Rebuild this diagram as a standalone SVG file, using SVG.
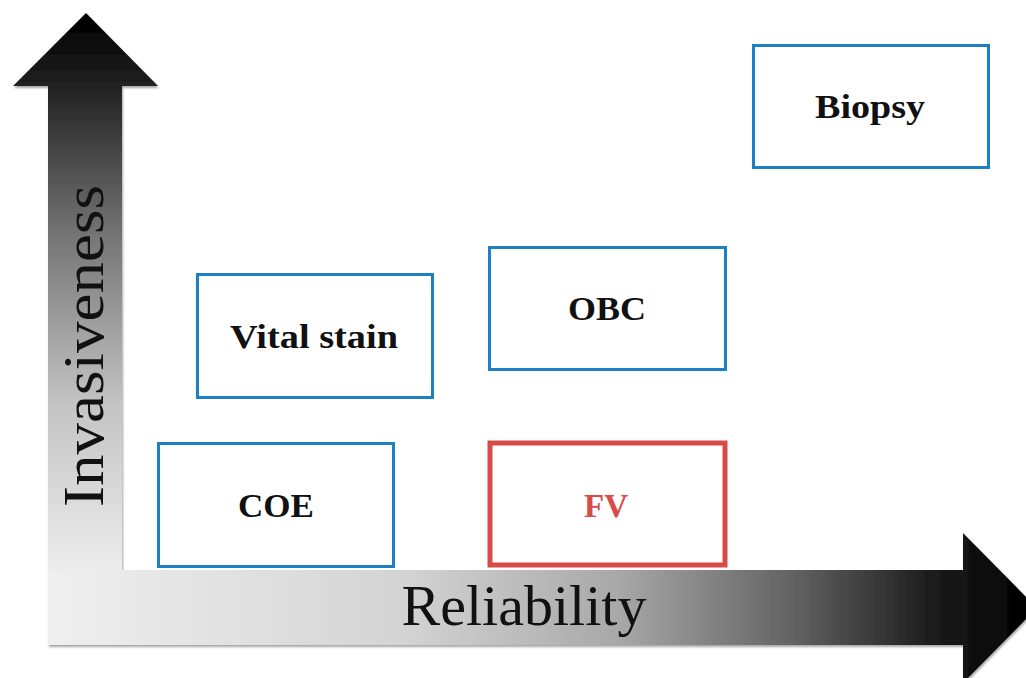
<svg xmlns="http://www.w3.org/2000/svg" width="1026" height="678" viewBox="0 0 1026 678">
<defs>
<linearGradient id="gv" gradientUnits="userSpaceOnUse" x1="0" y1="570" x2="0" y2="20">
<stop offset="0" stop-color="#ececec"/>
<stop offset="0.3" stop-color="#c4c4c4"/>
<stop offset="0.6" stop-color="#777"/>
<stop offset="0.85" stop-color="#2a2a2a"/>
<stop offset="1" stop-color="#000"/>
</linearGradient>
<linearGradient id="gh" gradientUnits="userSpaceOnUse" x1="48" y1="0" x2="1030" y2="0">
<stop offset="0" stop-color="#efefef"/>
<stop offset="0.36" stop-color="#d4d4d4"/>
<stop offset="0.58" stop-color="#a8a8a8"/>
<stop offset="0.76" stop-color="#626262"/>
<stop offset="0.9" stop-color="#1c1c1c"/>
<stop offset="1" stop-color="#000"/>
</linearGradient>
<filter id="sh" x="-5%" y="-5%" width="110%" height="110%">
<feDropShadow dx="1" dy="2" stdDeviation="1.2" flood-color="#000" flood-opacity="0.35"/>
</filter>
</defs>
<style>
.box{fill:#fff;stroke:#1b80c4;stroke-width:3}
.fv{fill:#fff;stroke:#d94a4a;stroke-width:5}
.lbl{font-family:"Liberation Serif","Times New Roman",serif;font-weight:bold;font-size:34px;text-anchor:middle;fill:#111}
.axis{font-family:"Liberation Serif","Times New Roman",serif;font-size:56px;text-anchor:middle;fill:#111}
</style>
<g id="axis-invasiveness">
<polygon points="48,570 48,86 13,86 86,13 158,86 122,86 122,570" fill="url(#gv)" filter="url(#sh)"/>
<text class="axis" transform="translate(103,346) rotate(-90)" x="0" y="0" textLength="322" lengthAdjust="spacingAndGlyphs" font-size="54">Invasiveness</text>
</g>
<g id="axis-reliability">
<polygon points="48,570 963,570 963,533 1037,608 963,683 963,645 48,645" fill="url(#gh)" filter="url(#sh)"/>
<text class="axis" x="524" y="625" textLength="245" lengthAdjust="spacingAndGlyphs">Reliability</text>
</g>
<g id="node-biopsy">
<rect class="box" x="753.5" y="45.5" width="235" height="122"/>
<text class="lbl" x="870" y="118" textLength="110" lengthAdjust="spacingAndGlyphs">Biopsy</text>
</g>
<g id="node-vital-stain">
<rect class="box" x="197.5" y="274.5" width="235" height="123"/>
<text class="lbl" x="314" y="348" textLength="168" lengthAdjust="spacingAndGlyphs">Vital stain</text>
</g>
<g id="node-obc">
<rect class="box" x="489.5" y="247.5" width="236" height="122"/>
<text class="lbl" x="607" y="320" textLength="78" lengthAdjust="spacingAndGlyphs">OBC</text>
</g>
<g id="node-coe">
<rect class="box" x="158.5" y="443.5" width="235" height="123"/>
<text class="lbl" x="276" y="517" textLength="76" lengthAdjust="spacingAndGlyphs">COE</text>
</g>
<g id="node-fv">
<rect class="fv" x="490" y="443" width="235" height="122"/>
<text class="lbl" x="606" y="517" fill="#d94a4a" style="fill:#d94a4a" textLength="44" lengthAdjust="spacingAndGlyphs">FV</text>
</g>
<g id="connectors"></g>
</svg>
